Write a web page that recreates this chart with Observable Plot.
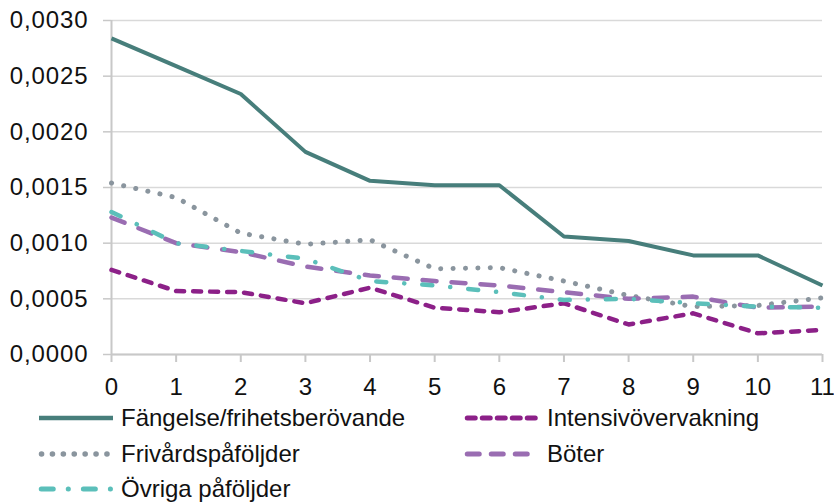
<!DOCTYPE html>
<html>
<head>
<meta charset="utf-8">
<script src="https://cdn.jsdelivr.net/npm/d3@7"></script>
<script src="https://cdn.jsdelivr.net/npm/@observablehq/plot@0.6"></script>
<style>
  html, body { margin: 0; padding: 0; background: #fff; }
  #wrap { position: relative; width: 834px; height: 502px; overflow: hidden; font-family: "Liberation Sans", Arial, sans-serif; }
  #chart { position: absolute; left: 0; top: 0; }
  #chart g[aria-label="y-axis tick label"] text { letter-spacing: 0.9px; }
  .leg { position: absolute; display: flex; align-items: center; font-size: 24px; color: #111; white-space: nowrap; }
  .leg svg { margin-right: 7px; }
</style>
</head>
<body>
<div id="wrap">
  <div id="chart"></div>
  <div id="legend"></div>
</div>
<script>
const years = [0, 1, 2, 3, 4, 5, 6, 7, 8, 9, 10, 11];
const fangelse  = [0.00284, 0.00259, 0.00234, 0.00182, 0.00156, 0.00152, 0.00152, 0.00106, 0.00102, 0.00089, 0.00089, 0.00062];
const intensiv  = [0.00076, 0.00057, 0.00056, 0.00046, 0.00060, 0.00042, 0.00038, 0.00046, 0.00027, 0.00037, 0.00019, 0.00022];
const frivard   = [0.00154, 0.00141, 0.00109, 0.00099, 0.00103, 0.00077, 0.00078, 0.00066, 0.00053, 0.00043, 0.00044, 0.00051];
const boter     = [0.00123, 0.00100, 0.00092, 0.00079, 0.00071, 0.00066, 0.00062, 0.00056, 0.00050, 0.00052, 0.00042, 0.00043];
const ovriga    = [0.00128, 0.00100, 0.00093, 0.00086, 0.00066, 0.00062, 0.00056, 0.00049, 0.00050, 0.00046, 0.00043, 0.00042];
const yTicks = [0, 0.0005, 0.0010, 0.0015, 0.0020, 0.0025, 0.0030];

const series = [
  {name: "Fängelse/frihetsberövande", values: fangelse, stroke: "#477e7b", dash: null, legDash: null, width: 4, cap: "butt"},
  {name: "Intensivövervakning", values: intensiv, stroke: "#8c2088", dash: "8 9", legDash: "8 7", width: 4.5, cap: "round"},
  {name: "Frivårdspåföljder", values: frivard, stroke: "#8a959e", dash: "0.1 12.3", legDash: "0.1 10.8", width: 5, cap: "round"},
  {name: "Böter", values: boter, stroke: "#9a6db2", dash: "14 15", legDash: "12 12", width: 4.5, cap: "round"},
  {name: "Övriga påföljder", values: ovriga, stroke: "#5bbfba", dash: "10 18 0.1 18", legDash: "12 15 0.1 15", width: 4.5, cap: "round"}
];

const fmt = d => d3.format(".4f")(d).replace(".", ",");

const lineMarks = series.map(s => Plot.line(years.map((x, i) => ({x, y: s.values[i]})), {
  x: "x", y: "y", stroke: s.stroke, strokeWidth: s.width,
  strokeDasharray: s.dash, strokeLinecap: s.cap, strokeLinejoin: "round"
}));

const chart = Plot.plot({
  width: 834,
  height: 400,
  marginLeft: 111,
  marginRight: 12,
  marginTop: 20,
  marginBottom: 46,
  style: {fontFamily: "'Liberation Sans', Arial, sans-serif", background: "transparent"},
  x: {domain: [0, 11]},
  y: {domain: [0, 0.003]},
  marks: [
    Plot.gridY(yTicks, {stroke: "#d9d9d9", strokeOpacity: 1, strokeWidth: 1.5}),
    Plot.ruleX([0], {stroke: "#c8c8c8", strokeWidth: 2}),
    Plot.ruleY([0], {stroke: "#c8c8c8", strokeWidth: 2}),
    Plot.axisY(yTicks, {tickSize: 8, tickPadding: 15, stroke: "#c8c8c8", strokeWidth: 1.5, fontSize: 24, fill: "#111", tickFormat: fmt, label: null}),
    Plot.axisX(years, {tickSize: 8, tickPadding: 15, stroke: "#c8c8c8", strokeWidth: 2, fontSize: 24, fill: "#111", tickFormat: d => String(d), label: null}),
    ...lineMarks
  ]
});
document.getElementById("chart").appendChild(chart);

// Legend
const legendPos = [
  {left: 38, top: 418},
  {left: 464, top: 418},
  {left: 38, top: 454},
  {left: 464, top: 454},
  {left: 38, top: 489}
];
const legend = document.getElementById("legend");
series.forEach((s, k) => {
  const p = legendPos[k];
  const div = document.createElement("div");
  div.className = "leg";
  div.style.left = p.left + "px";
  div.style.top = (p.top - 15) + "px";
  div.style.height = "30px";
  const ns = "http://www.w3.org/2000/svg";
  const svg = document.createElementNS(ns, "svg");
  svg.setAttribute("width", 76);
  svg.setAttribute("height", 12);
  const ln = document.createElementNS(ns, "line");
  const pad = s.cap === "round" ? s.width / 2 : 0;
  ln.setAttribute("x1", 1 + pad);
  ln.setAttribute("x2", 75 - pad);
  ln.setAttribute("y1", 6);
  ln.setAttribute("y2", 6);
  ln.setAttribute("stroke", s.stroke);
  ln.setAttribute("stroke-width", s.width + 0.5);
  ln.setAttribute("stroke-linecap", s.cap);
  if (s.legDash) ln.setAttribute("stroke-dasharray", s.legDash);
  svg.appendChild(ln);
  div.appendChild(svg);
  const t = document.createElement("span");
  t.textContent = s.name;
  div.appendChild(t);
  legend.appendChild(div);
});
</script>
</body>
</html>
